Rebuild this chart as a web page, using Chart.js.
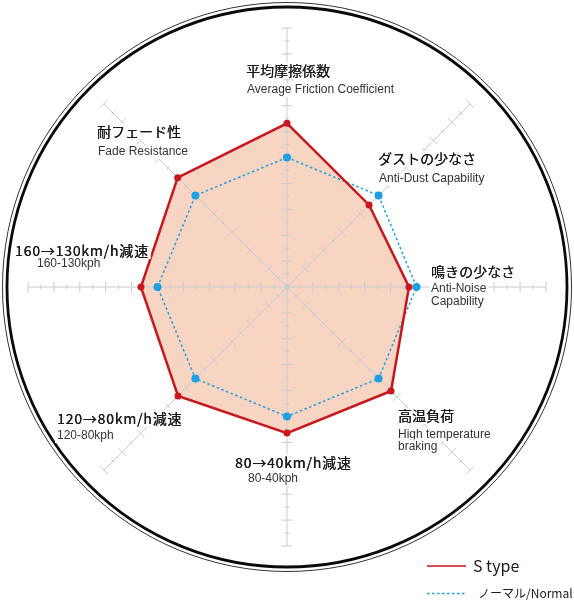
<!DOCTYPE html>
<html>
<head>
<meta charset="utf-8">
<script src="https://cdn.jsdelivr.net/npm/chart.js@4.4.0/dist/chart.umd.min.js"></script>
<style>
  html, body { margin: 0; padding: 0; background: #fff; }
  #wrap { width: 574px; height: 600px; }
</style>
</head>
<body>
<div id="wrap"><canvas id="pad-chart" width="574" height="600"></canvas></div>
<script>
// axis names, clockwise from the top
const labels_ja = ["平均摩擦係数", "ダストの少なさ", "鳴きの少なさ", "高温負荷", "80→40km/h減速", "120→80km/h減速", "160→130km/h減速", "耐フェード性"];
const labels_en = [["Average Friction Coefficient"], ["Anti-Dust Capability"], ["Anti-Noise", "Capability"], ["High temperature", "braking"], ["80-40kph"], ["120-80kph"], ["160-130kph"], ["Fade Resistance"]];

// series values (scale 0-10)
const s_type = [6.32, 4.48, 4.71, 5.68, 5.64, 5.95, 5.64, 5.97];
const normal = [5, 5, 5, 5, 5, 5, 5, 5];

const series_names = ["S type", "ノーマル/Normal"];
const scale_max = 10;
const tick_step = 0.5;

// where each axis caption sits on the canvas
const label_layout = [
    {jx: 246, jy: 70.5, ex: 247, ey: 93, lh: 13},
    {jx: 378, jy: 159, ex: 379, ey: 181.5, lh: 13},
    {jx: 431, jy: 272, ex: 431, ey: 292, lh: 13},
    {jx: 398, jy: 416, ex: 398, ey: 437.5, lh: 12},
    {jx: 235, jy: 462.5, ex: 248, ey: 482, lh: 13},
    {jx: 57, jy: 419, ex: 57, ey: 439, lh: 13},
    {jx: 15, jy: 251, ex: 37, ey: 267, lh: 13},
    {jx: 97, jy: 131.5, ex: 98, ey: 155, lh: 13}
];

const JA_FONT = '14px "Noto Sans CJK JP", sans-serif';
const EN_FONT = '12px "Liberation Sans", Arial, sans-serif';
const GRID_COLOR = 'rgb(200,205,212)';

function drawTextBox(ctx, text, x, y, h) {
    let w = ctx.measureText(text).width;
    ctx.fillStyle = '#fff';
    ctx.fillRect(x - 2, y - h, w + 4, h + 4);
}

const padDecor = {
    id: 'padDecor',
    beforeDatasetsDraw(chart) {
        const r = chart.scales.r;
        const ctx = chart.ctx;
        const cx = r.xCenter, cy = r.yCenter;
        ctx.save();

        // outer double ring
        ctx.strokeStyle = '#0a0a0a';
        ctx.lineWidth = 2.8;
        ctx.beginPath();
        ctx.arc(cx, cy, 280, 0, Math.PI * 2);
        ctx.stroke();
        ctx.strokeStyle = '#333';
        ctx.lineWidth = 1;
        ctx.beginPath();
        ctx.arc(cx, cy, 284.5, 0, Math.PI * 2);
        ctx.stroke();

        // spokes with tick marks
        ctx.strokeStyle = GRID_COLOR;
        ctx.lineWidth = 1;
        for (let i = 0; i < chart.data.labels.length; i++) {
            let end = r.getPointPosition(i, r.drawingArea);
            ctx.beginPath();
            ctx.moveTo(cx, cy);
            ctx.lineTo(end.x, end.y);
            ctx.stroke();

            let px = -Math.sin(end.angle), py = Math.cos(end.angle);
            for (let k = 1; k * tick_step <= scale_max + 1e-6; k++) {
                let v = k * tick_step;
                let p = r.getPointPosition(i, r.getDistanceFromCenterForValue(v));
                let half = (k % 2 == 0) ? 5.5 : 2.5;
                ctx.beginPath();
                ctx.moveTo(p.x - px * half, p.y - py * half);
                ctx.lineTo(p.x + px * half, p.y + py * half);
                ctx.stroke();
            }
        }
        ctx.fillStyle = GRID_COLOR;
        ctx.beginPath();
        ctx.arc(cx, cy, 3, 0, Math.PI * 2);
        ctx.fill();
        ctx.restore();
    },
    afterDraw(chart) {
        const ctx = chart.ctx;
        ctx.save();

        // axis captions on white boxes
        for (let i = 0; i < labels_ja.length; i++) {
            let lay = label_layout[i];
            ctx.font = JA_FONT;
            ctx.textBaseline = 'middle';
            ctx.textAlign = 'left';
            // the speed captions use wide digits
            ctx.letterSpacing = /\d/.test(labels_ja[i]) ? '0.8px' : '0px';
            let w = ctx.measureText(labels_ja[i]).width;
            ctx.fillStyle = '#fff';
            ctx.fillRect(lay.jx - 2, lay.jy - 8, w + 4, 16);
            ctx.fillStyle = '#1a1a1a';
            ctx.fillText(labels_ja[i], lay.jx, lay.jy);
            ctx.fillText(labels_ja[i], lay.jx + 0.35, lay.jy);
            ctx.letterSpacing = '0px';

            ctx.font = EN_FONT;
            ctx.textBaseline = 'alphabetic';
            labels_en[i].forEach(function(line, j) {
                let y = lay.ey + j * lay.lh;
                drawTextBox(ctx, line, lay.ex, y, 10);
                ctx.fillStyle = '#333';
                ctx.fillText(line, lay.ex, y);
            });
        }

        // legend
        const sets = chart.data.datasets;
        const rows = [566, 593.5];
        ctx.textBaseline = 'alphabetic';
        sets.forEach(function(ds, i) {
            ctx.strokeStyle = ds.borderColor;
            ctx.lineWidth = 1.6;
            ctx.setLineDash(ds.borderDash || []);
            ctx.beginPath();
            ctx.moveTo(427, rows[i]);
            ctx.lineTo(466, rows[i]);
            ctx.stroke();
            ctx.setLineDash([]);
            ctx.fillStyle = '#231815';
            if (i == 0) {
                ctx.font = '16px "Noto Sans CJK JP", sans-serif';
                ctx.fillText(ds.label, 473, rows[i] + 5.5);
            } else {
                ctx.font = '12px "Noto Sans CJK JP", sans-serif';
                ctx.fillText(ds.label, 478, rows[i] + 4);
            }
        });
        ctx.restore();
    }
};

let data = {
    labels: labels_ja,
    datasets: [{
        label: series_names[0],
        data: s_type,
        fill: true,
        backgroundColor: '#f8d4c2',
        borderColor: '#c9171e',
        borderWidth: 2.5,
        pointRadius: 3.5,
        pointBackgroundColor: '#c9171e',
        pointBorderWidth: 0,
        tension: 0
    }, {
        label: series_names[1],
        data: normal,
        fill: false,
        borderColor: '#1d9fe2',
        borderWidth: 1.5,
        borderDash: [2.5, 2.5],
        pointRadius: 4,
        pointBackgroundColor: '#1d9fe2',
        pointBorderWidth: 0,
        tension: 0
    }]
};

let config = {
    type: 'radar',
    data: data,
    options: {
        responsive: false,
        animation: false,
        devicePixelRatio: 1,
        layout: { padding: { left: 28, right: 28, top: 28, bottom: 54 } },
        plugins: {
            legend: { display: false },
            tooltip: { enabled: false },
            filler: { drawTime: 'beforeDatasetsDraw' }
        },
        scales: {
            r: {
                min: 0,
                max: scale_max,
                ticks: { display: false, stepSize: 1 },
                grid: { display: false },
                angleLines: { display: false },
                pointLabels: { display: false }
            }
        }
    },
    plugins: [padDecor]
};

let pad_chart = new Chart(document.getElementById("pad-chart"), config);
</script>
</body>
</html>
